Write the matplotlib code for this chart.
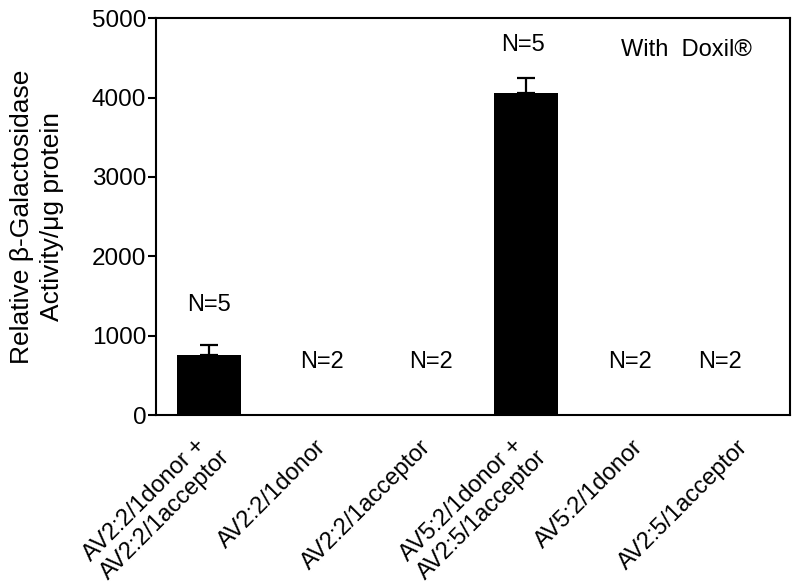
import numpy as np
import matplotlib
matplotlib.use("Agg")
import matplotlib.pyplot as plt
from matplotlib.transforms import ScaledTranslation

# Data
groups = [
    "AV2:2/1donor +\nAV2:2/1acceptor",
    "AV2:2/1donor",
    "AV2:2/1acceptor",
    "AV5:2/1donor +\nAV2:5/1acceptor",
    "AV5:2/1donor",
    "AV2:5/1acceptor",
]
activity = [755, 10, 8, 4055, 8, 10]
errors = [125, 0, 0, 190, 0, 0]
n_labels = ["N=5", "N=2", "N=2", "N=5", "N=2", "N=2"]

# label placement (data coords)
label_x = [0.0, 1.07, 2.1, 2.97, 3.99, 4.84]
label_y = [1385, 667, 667, 4660, 667, 667]

plt.rcParams["font.family"] = ["Liberation Sans", "DejaVu Sans"]

fig = plt.figure(figsize=(8, 5.87), dpi=100)
ax = fig.add_axes([0.195, 0.293, 0.7925, 0.676])

x = np.arange(len(groups))
ax.bar(x, activity, width=0.6, color="black", zorder=2)
err_mask = np.array(errors) > 0
ax.errorbar(x[err_mask], np.array(activity)[err_mask],
            yerr=[np.zeros(err_mask.sum()), np.array(errors)[err_mask]],
            fmt="none", ecolor="black", elinewidth=1.6, capsize=6.5,
            capthick=1.6, zorder=1)

for lx, ly, txt in zip(label_x, label_y, n_labels):
    ax.text(lx, ly, txt, ha="center", va="center", fontsize=17)

ax.text(4.52, 4597, "With  Doxil\u00ae", ha="center", va="center", fontsize=17)

ax.set_xlim(-0.5, 5.5)
ax.set_ylim(0, 5000)
ax.set_yticks([0, 1000, 2000, 3000, 4000, 5000])
ax.tick_params(axis="y", labelsize=17.5, length=6, width=1.5, direction="out", pad=1)
ax.set_xticks(x)
ax.set_xticklabels(groups, rotation=45, ha="right", rotation_mode="anchor",
                   multialignment="left", fontsize=17)
ax.tick_params(axis="x", length=0, pad=15)

# two-line labels sit a little higher and further left
for lab in ax.get_xticklabels():
    if "\n" in lab.get_text():
        lab.set_transform(lab.get_transform() +
                          ScaledTranslation(-0.08, 0.08, fig.dpi_scale_trans))

for s in ax.spines.values():
    s.set_linewidth(1.5)

ax.set_ylabel("Relative \u03b2-Galactosidase\nActivity/\u03bcg protein",
              fontsize=19, linespacing=1.3, labelpad=20)

fig.savefig("out.png", dpi=100)
